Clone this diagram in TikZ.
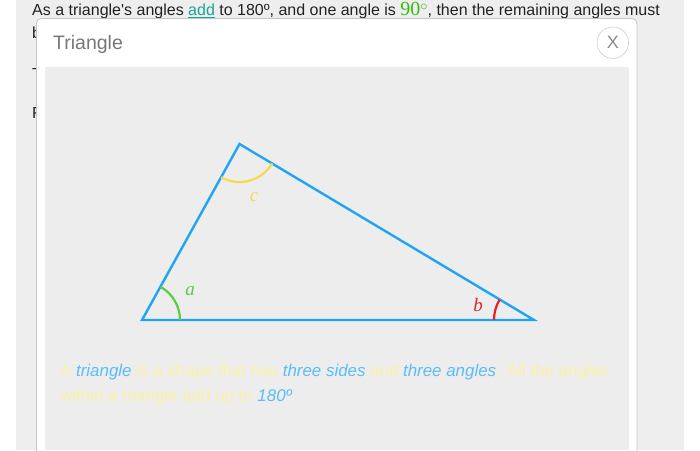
\documentclass[tikz,border=0pt]{standalone}
\usepackage{fontspec}
\setmainfont{Liberation Sans}
\newfontfamily\serifface{Liberation Serif}
\usetikzlibrary{angles}
\definecolor{pagegray}{HTML}{EEEEEE}
\definecolor{innergray}{HTML}{EDEDED}
\definecolor{borderg}{HTML}{C4C4C4}
\definecolor{bodytext}{HTML}{222222}
\definecolor{titlegray}{HTML}{777777}
\definecolor{linkteal}{HTML}{17A69A}
\definecolor{ninetygreen}{HTML}{33BB11}
\definecolor{triblue}{HTML}{1FA5F5}
\definecolor{agreen}{HTML}{5CCB45}
\definecolor{cyellow}{HTML}{F6D950}
\definecolor{bred}{HTML}{E52222}
\definecolor{softyellow}{HTML}{FCF0A8}
\definecolor{softblue}{HTML}{5ABDF7}
\tikzset{
  bodyline/.style={anchor=base west, inner sep=0pt, text=bodytext, font=\fontsize{16}{19}\selectfont},
  trisides/.style={draw=triblue, line width=2.4pt, line join=miter},
  anglearc/.style={draw=#1, line width=2.2pt},
  anglelabel/.style={text=#1, inner sep=0pt, font=\serifface\itshape\fontsize{19}{20}\selectfont},
  desctext/.style={anchor=base west, inner sep=0pt, text=softyellow, font=\fontsize{16.9}{25}\selectfont},
}
\begin{document}
\begin{tikzpicture}[x=1pt,y=1pt]
\useasboundingbox (0,0) rectangle (700,450);
\fill[white] (0,0) rectangle (700,450);
% page panel
\fill[pagegray] (16,0) rectangle (684,450);
% background text
\node[bodyline] (line1) at (32,434.6) {As a triangle\textquotesingle s angles \textcolor{linkteal}{\underline{add}} to 180º, and one angle is {\textcolor{ninetygreen}{\serifface\fontsize{20}{20}\selectfont 90\raisebox{4.6pt}{\fontsize{15}{15}\selectfont$\circ$}}}, then the remaining angles must};
\node[bodyline] (line2) at (32,411) {b};
\node[bodyline] (line3) at (32,370.5) {T};
\node[bodyline] (line4) at (32,331) {F};
% modal
\begin{scope}
\clip (0,0) rectangle (700,450);
\filldraw[fill=white, draw=borderg, line width=0.8pt, rounded corners=5pt] (36.4,-20) rectangle (637,431.5);
\end{scope}
\node[anchor=base west, inner sep=0pt, text=titlegray, font=\fontsize{19.5}{22}\selectfont] (title) at (53,400.5) {Triangle};
\node[circle, draw=borderg!85, line width=0.6pt, minimum size=31.5pt, inner sep=0pt, text=titlegray!85, font=\fontsize{18}{18}\selectfont] (close) at (612.8,407.3) {X};
\fill[innergray] (45,0) rectangle (629,383);
% triangle
\coordinate (A) at (142,130);
\coordinate (B) at (534,130);
\coordinate (C) at (239.5,306);
\draw[trisides] (A) -- (B) -- (C) -- cycle;
\pic[anglearc=agreen, angle radius=38pt] {angle=B--A--C};
\pic[anglearc=cyellow, angle radius=38pt] {angle=A--C--B};
\pic[anglearc=bred, angle radius=40pt] {angle=C--B--A};
\node[anglelabel=agreen] (la) at (190,159) {a};
\node[anglelabel=bred] (lb) at (478,145) {b};
\node[anglelabel=cyellow] (lc) at (254,253) {c};
% description
\node[desctext] (desc1) at (60,73.5) {A \textcolor{softblue}{\itshape triangle} is a shape that has \textcolor{softblue}{\itshape three sides} and \textcolor{softblue}{\itshape three angles}. All the angles};
\node[desctext] (desc2) at (60,49) {within a triangle add up to \textcolor{softblue}{\itshape 180º}.};
\end{tikzpicture}
\end{document}
